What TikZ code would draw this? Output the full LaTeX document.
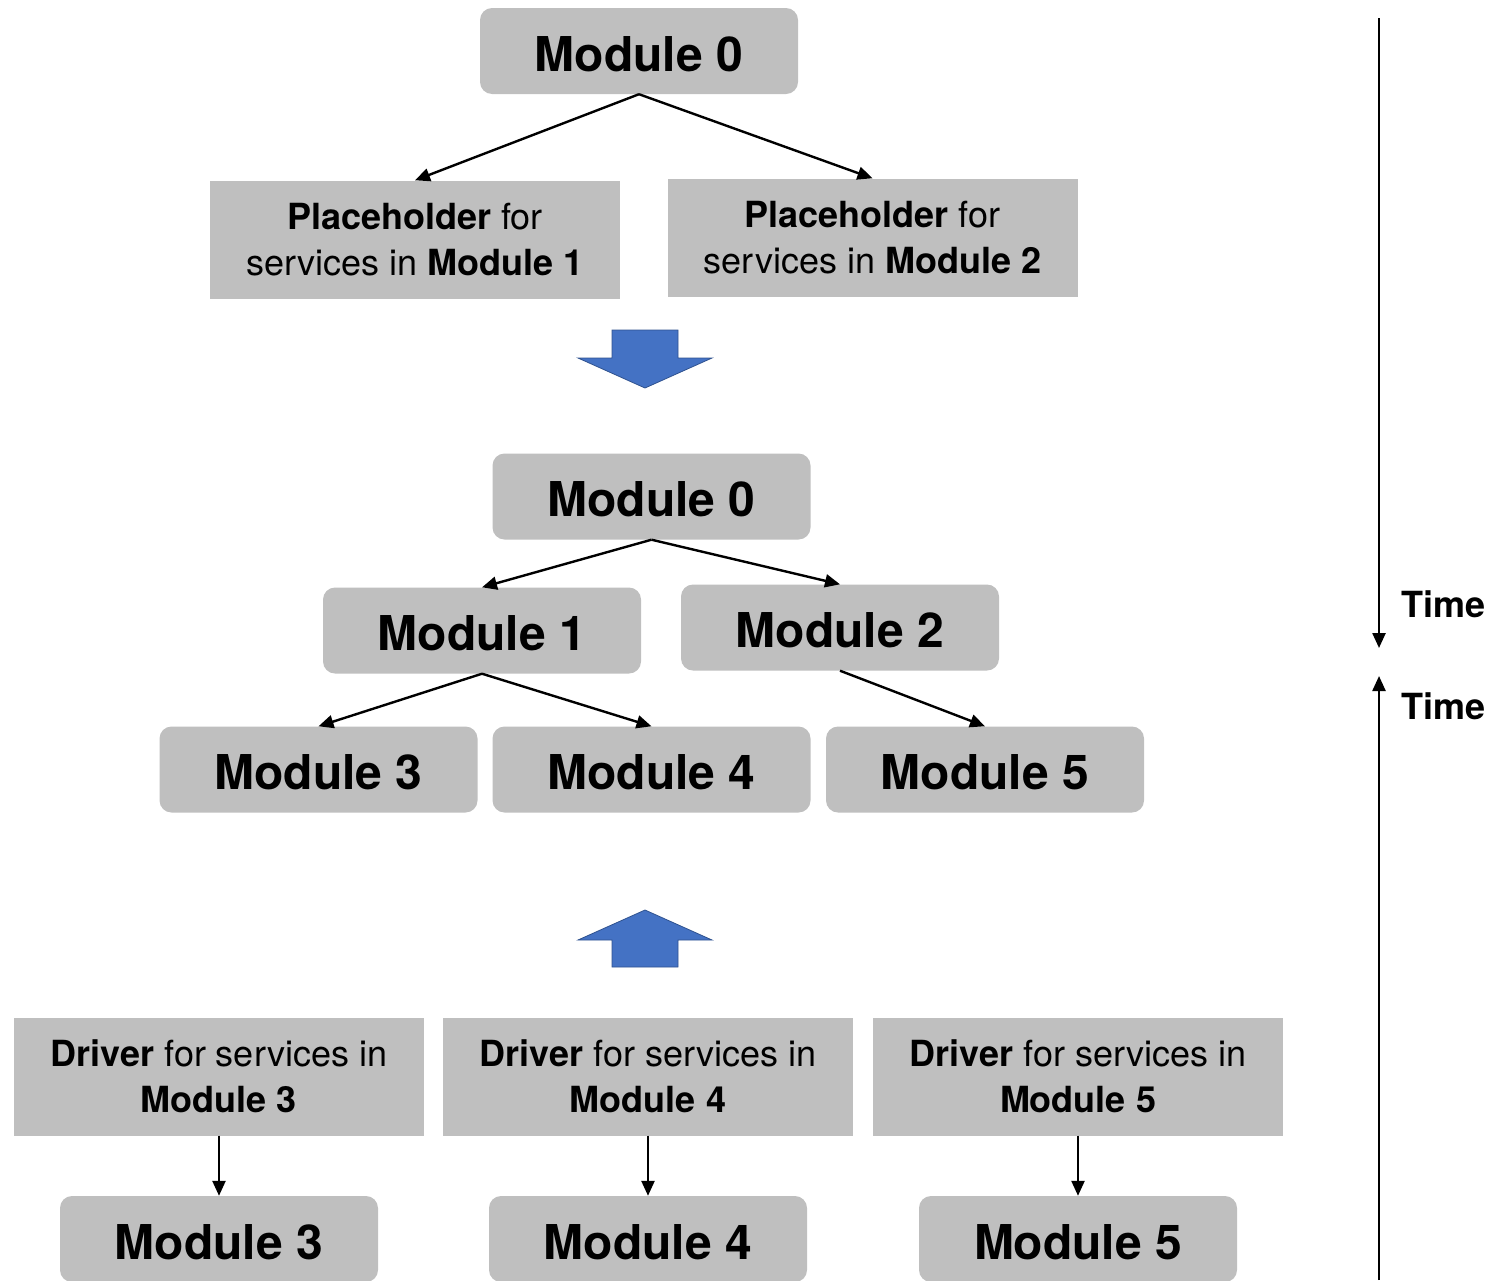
\documentclass[tikz,border=0pt]{standalone}
\usepackage{fontspec}
\setmainfont{TeX Gyre Heros}
\usepackage{tikz}
\usetikzlibrary{arrows.meta}

\definecolor{boxgray}{HTML}{BFBFBF}
\definecolor{arrowblue}{HTML}{4472C4}
\definecolor{arrowedge}{HTML}{2F528F}

\tikzset{
    modbox/.style={fill=boxgray,rounded corners=12pt,minimum width=318pt,minimum height=86pt,inner sep=0pt,text height=40pt,text depth=0pt,font=\fontsize{48}{56}\selectfont\bfseries},
    srvbox/.style={fill=boxgray,minimum width=410pt,minimum height=118pt,inner sep=0pt,align=center,font=\fontsize{36}{46}\selectfont},
    link/.style={line width=2.4pt,-{Triangle[length=15pt,width=13pt]}},
    timelbl/.style={font=\fontsize{36}{44}\selectfont\bfseries,anchor=west}
}

\begin{document}
\begin{tikzpicture}[x=1pt,y=-1pt]
                \useasboundingbox (0,0) rectangle (1511,1280);
                % first step
                \node [modbox] (topzero) at (639,51) {Module 0};
                \node [srvbox] (phone) at (415,239.5) {\textbf{Placeholder} for\\services in \textbf{Module 1}};
                \node [srvbox] (phtwo) at (872.5,237.5) {\textbf{Placeholder} for\\services in \textbf{Module 2}};
                \draw [link] (topzero.south) -- (phone.north);
                \draw [link] (topzero.south) -- (phtwo.north);
                \filldraw [fill=arrowblue,draw=arrowedge,line width=0.8pt] (612,330)--(678,330)--(678,358)--(712,358)--(645,388)--(578,358)--(612,358)--cycle;
                % full tree
                \node [modbox] (zero) at (651.5,496.5) {Module 0};
                \node [modbox] (one) at (482,630.5) {Module 1};
                \node [modbox] (two) at (840,627.5) {Module 2};
                \node [modbox] (three) at (318.5,769.5) {Module 3};
                \node [modbox] (four) at (651.5,769.5) {Module 4};
                \node [modbox] (five) at (985,769.5) {Module 5};
                \draw [link] (zero.south) -- (one.north);
                \draw [link] (zero.south) -- (two.north);
                \draw [link] (one.south) -- (three.north);
                \draw [link] (one.south) -- (four.north);
                \draw [link] (two.south) -- (five.north);
                \filldraw [fill=arrowblue,draw=arrowedge,line width=0.8pt] (612,967)--(678,967)--(678,940)--(712,940)--(645,910)--(578,940)--(612,940)--cycle;
                % drivers
                \foreach \n/\x in {3/219,4/648,5/1078} {
                    \node [srvbox] (drv\n) at (\x,1076.5) {\textbf{Driver} for services in\\\textbf{Module \n}};
                    \node [modbox] (leaf\n) at (\x,1239) {Module \n};
                    \draw [link] (drv\n.south) -- (leaf\n.north);
                }
                % time axis
                \coordinate (ttop) at (1379,18);
                \coordinate (tmid) at (1379,648);
                \coordinate (tlow) at (1379,676);
                \coordinate (tend) at (1379,1280);
                \draw [link] (ttop) -- (tmid);
                \draw [link] (tend) -- (tlow);
                \node [timelbl] (tdown) at (1398,604) {Time};
                \node [timelbl] (tup) at (1398,706) {Time};
            \end{tikzpicture}
\end{document}
